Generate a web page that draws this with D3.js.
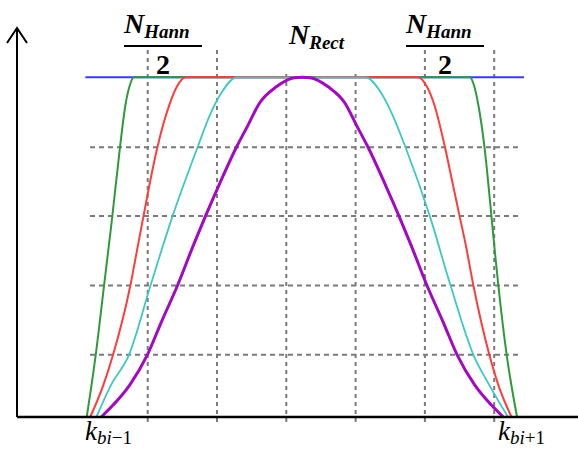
<!DOCTYPE html>
<html>
<head>
<meta charset="utf-8">
<script src="https://cdn.jsdelivr.net/npm/d3@7"></script>
<style>
  html, body { margin: 0; padding: 0; background: #fff; }
  svg { display: block; }
</style>
</head>
<body>
<div id="chart"></div>
<script>
// grid positions (x in bin units, y as window gain)
const gridX = [1, 2, 3, 4, 5, 6];
const gridY = [0.183, 0.387, 0.592, 0.794];

// window shapes, [x, gain]
const blue = [[0.1, 1], [6.43, 1]];
const green = [[0.12, 0], [0.25, 0.183], [0.37, 0.387], [0.44, 0.506], [0.49, 0.592], [0.6, 0.794],
  [0.68, 0.92], [0.74, 0.975], [0.8, 1], [5.65, 1], [5.71, 0.975], [5.77, 0.92], [5.86, 0.794],
  [5.96, 0.592], [6.0, 0.506], [6.06, 0.387], [6.18, 0.183], [6.33, 0]];
const red = [[0.17, 0], [0.36, 0.094], [0.5, 0.183], [0.75, 0.387], [0.86, 0.506], [0.94, 0.592],
  [1.03, 0.688], [1.14, 0.794], [1.32, 0.923], [1.42, 0.972], [1.55, 1], [4.9, 1], [5.03, 0.972],
  [5.13, 0.923], [5.29, 0.794], [5.4, 0.688], [5.5, 0.592], [5.59, 0.506], [5.7, 0.387],
  [5.93, 0.183], [6.06, 0.094], [6.25, 0]];
const cyan = [[0.26, 0], [0.47, 0.094], [0.73, 0.183], [1.04, 0.387], [1.36, 0.592], [1.72, 0.794],
  [1.9, 0.89], [2.05, 0.95], [2.29, 1], [4.14, 1], [4.38, 0.95], [4.53, 0.89], [4.72, 0.794],
  [5.07, 0.592], [5.37, 0.387], [5.7, 0.183], [5.93, 0.094], [6.2, 0]];
const magenta = [[0.33, 0], [0.5, 0.035], [0.74, 0.094], [0.995, 0.183], [1.2, 0.281], [1.43, 0.387],
  [1.66, 0.506], [1.835, 0.592], [2.04, 0.688], [2.28, 0.794], [2.45, 0.86], [2.61, 0.923],
  [2.855, 0.972], [3.12, 0.999], [3.23, 1], [3.34, 0.999], [3.605, 0.972], [3.85, 0.923],
  [4.01, 0.86], [4.18, 0.794], [4.42, 0.688], [4.625, 0.592], [4.8, 0.506], [5.03, 0.387],
  [5.26, 0.281], [5.465, 0.183], [5.72, 0.094], [5.96, 0.035], [6.13, 0]];

const series = [
  { data: blue, color: "#3a3af5", width: 2 },
  { data: green, color: "#2f9a3c", width: 2 },
  { data: red, color: "#ff3c3c", width: 2 },
  { data: cyan, color: "#3cc8c8", width: 1.8 },
  { data: magenta, color: "#a308c2", width: 3 }
];

const width = 578, height = 450;
const axisX = 17, axisY = 417;

const svg = d3.select("#chart").append("svg")
  .attr("width", width)
  .attr("height", height);

const x = d3.scaleLinear().domain([0, 7]).range([78.4, 78.4 + 7 * 69.3]);
const y = d3.scaleLinear().domain([0, 1]).range([axisY, 77.3]);

// dashed grid
const grid = svg.append("g")
  .attr("stroke", "#7a7a7a")
  .attr("stroke-width", 2);

grid.selectAll("line.v")
  .data(gridX)
  .enter().append("line")
  .attr("class", "v")
  .attr("x1", d => x(d)).attr("x2", d => x(d))
  .attr("y1", 50).attr("y2", 422)
  .attr("stroke-dasharray", "4,4");

grid.selectAll("line.h")
  .data(gridY)
  .enter().append("line")
  .attr("class", "h")
  .attr("x1", 90).attr("x2", 522)
  .attr("y1", d => y(d)).attr("y2", d => y(d))
  .attr("stroke-dasharray", "5,4");

// white box behind the N_Rect label hides grid tops
svg.append("rect")
  .attr("x", 265).attr("y", 3)
  .attr("width", 113).attr("height", 70)
  .attr("fill", "#fff");

// curves
const line = d3.line()
  .x(d => x(d[0]))
  .y(d => y(d[1]))
  .curve(d3.curveMonotoneX);

svg.append("g")
  .selectAll("path")
  .data(series)
  .enter().append("path")
  .attr("fill", "none")
  .attr("stroke", d => d.color)
  .attr("stroke-width", d => d.width)
  .attr("stroke-linejoin", "round")
  .attr("d", d => line(d.data));

// axes
svg.append("line")
  .attr("x1", axisX).attr("x2", width)
  .attr("y1", axisY).attr("y2", axisY)
  .attr("stroke", "#000").attr("stroke-width", 2.5);

svg.append("line")
  .attr("x1", axisX).attr("x2", axisX)
  .attr("y1", axisY).attr("y2", 28)
  .attr("stroke", "#000").attr("stroke-width", 2);

svg.append("path")
  .attr("d", `M${axisX - 10},${43} L${axisX},${28} L${axisX + 10},${43}`)
  .attr("fill", "none")
  .attr("stroke", "#000").attr("stroke-width", 2);

// labels
const serif = "'Liberation Serif', 'DejaVu Serif', serif";

function nLabel(xPos, baseline, sub) {
  const t = svg.append("text")
    .attr("x", xPos).attr("y", baseline)
    .attr("font-family", serif)
    .attr("font-weight", "bold")
    .attr("font-style", "italic")
    .attr("font-size", 28)
    .attr("fill", "#000");
  t.append("tspan").text("N");
  t.append("tspan").attr("dy", 5).attr("font-size", 19).text(sub);
}

function halfLabel(cx) {
  nLabel(cx - 39, 33, "Hann");
  svg.append("line")
    .attr("x1", cx - 39).attr("x2", cx + 39)
    .attr("y1", 46).attr("y2", 46)
    .attr("stroke", "#000").attr("stroke-width", 2);
  svg.append("text")
    .attr("x", cx).attr("y", 74)
    .attr("text-anchor", "middle")
    .attr("font-family", serif)
    .attr("font-weight", "bold")
    .attr("font-size", 28)
    .text("2");
}

halfLabel(163);
halfLabel(445);
nLabel(289, 44, "Rect");

function kLabel(xPos, sign) {
  const t = svg.append("text")
    .attr("x", xPos).attr("y", 440)
    .attr("font-family", serif)
    .attr("font-size", 27)
    .attr("fill", "#000");
  t.append("tspan").attr("font-style", "italic").text("k");
  t.append("tspan").attr("dy", 4).attr("font-size", 19).attr("font-style", "italic").text("bi");
  t.append("tspan").attr("font-size", 19).text(sign + "1");
}

kLabel(85, "\u2212");
kLabel(498, "+");
</script>
</body>
</html>
